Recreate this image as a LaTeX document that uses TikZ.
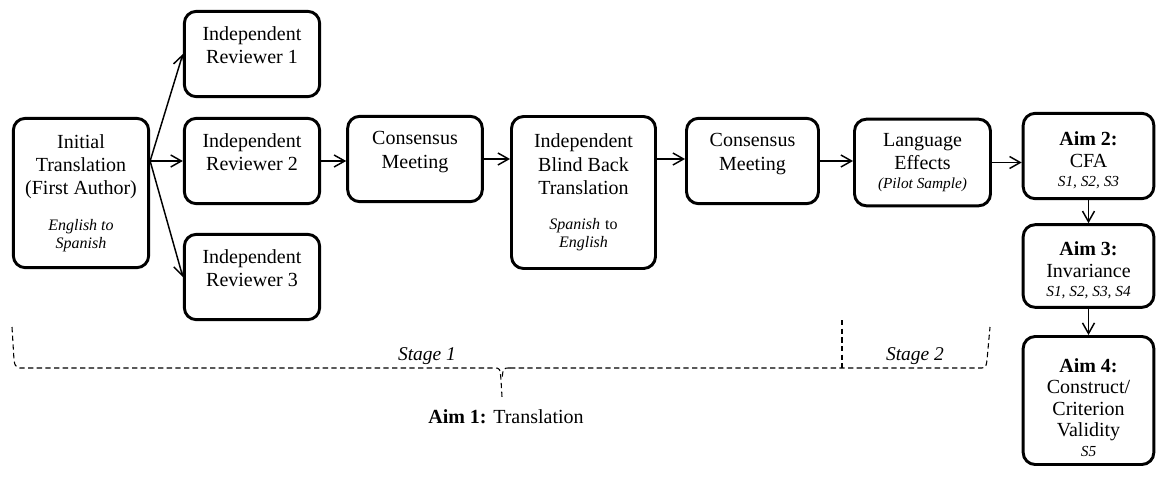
\documentclass[tikz,border=0pt]{standalone}
\usepackage{fontspec}
\setmainfont{Liberation Serif}
\usetikzlibrary{arrows.meta}
\newcommand{\smallit}[1]{{\fontsize{12}{13.5}\selectfont\itshape #1}}
\newcommand{\aimit}[1]{{\fontsize{11.5}{13}\selectfont\itshape #1}}

\begin{document}
\begin{tikzpicture}[x=0.75pt,y=-0.75pt,
		box/.style={draw, line width=2.2pt, rounded corners=9pt, align=center, inner sep=2pt, font=\fontsize{15}{17.5}\selectfont},
		aimbox/.style={box, minimum width=98pt, font=\fontsize{15}{16.5}\selectfont},
		arr/.style={-{Straight Barb[length=8pt,width=9pt]}, line width=1.1pt},
		stagedash/.style={line width=0.8pt, dash pattern=on 4pt off 2.5pt},
		stagetext/.style={anchor=base, font=\fontsize{14.6}{17}\selectfont\itshape}]
		\useasboundingbox (0,0) rectangle (1160,479);
		% stage 1 boxes
		\node[box, minimum width=101.5pt, minimum height=112pt] (init) at (81,193) {Initial\\Translation\\(First Author)\\[9pt]\smallit{English to}\\[-4pt]\smallit{Spanish}};
		\foreach \i/\y in {1/54,2/161,3/277} \node[box, minimum width=101.5pt, minimum height=64pt] (rev\i) at (252,\y) {Independent\\Reviewer \i\\[-4pt]\mbox{}};
		\node[box, minimum width=101pt, minimum height=64pt] (cons1) at (415,159) {Consensus\\Meeting\\[-4pt]\mbox{}};
		\node[box, minimum width=108pt, minimum height=114pt] (back) at (583.5,192.5) {Independent\\Blind Back\\Translation\\[9pt]\smallit{Spanish} {\fontsize{12}{13.5}\selectfont to}\\[-4pt]\smallit{English}};
		\node[box, minimum width=99pt, minimum height=64pt] (cons2) at (752.5,161) {Consensus\\Meeting\\[-4pt]\mbox{}};
		% stage 2 and aims
		\node[box, minimum width=102pt, minimum height=65pt] (lang) at (922.5,162.5) {Language\\Effects\\[-3pt]\aimit{(Pilot Sample)}};
		\node[aimbox, minimum height=64pt] (aim2) at (1088.5,156) {\mbox{}\\\textbf{Aim 2:}\\CFA\\[-2pt]\aimit{S1, S2, S3}};
		\node[aimbox, minimum height=62pt] (aim3) at (1088.5,266) {\mbox{}\\\textbf{Aim 3:}\\Invariance\\[-2pt]\aimit{S1, S2, S3, S4}};
		\node[aimbox, minimum height=96pt, font=\fontsize{15}{16}\selectfont] (aim4) at (1088.5,400.5) {\mbox{}\\[5pt]\textbf{Aim 4:}\\Construct/\\Criterion\\Validity\\[-1pt]\aimit{S5}};
		% arrows
		\coordinate (fan) at (init.east |- rev2.west);
		\foreach \i in {1,2,3} \draw[arr] (fan) -- (rev\i.west);
		\draw[arr] (rev2.east) -- (rev2.east -| cons1.west);
		\draw[arr] (cons1.east) -- (cons1.east -| back.west);
		\draw[arr] (cons1.east -| back.east) -- (cons1.east -| cons2.west);
		\draw[arr] (cons2.east) -- (cons2.east -| lang.west);
		\draw[arr] (lang.east) -- (lang.east -| aim2.west);
		\draw[arr] (aim2.south) -- (aim3.north);
		\draw[arr] (aim3.south) -- (aim4.north);
		% stage brace
		\draw[stagedash] (12,327) -- (14,360) .. controls (15,366) .. (20,368) -- (494,368) .. controls (500,368) .. (501,380) -- (502,397);
		\draw[stagedash] (510,368) .. controls (503,368) .. (502,380);
		\draw[stagedash] (510,368) -- (982,368) .. controls (986,367) .. (987,360) -- (990,327);
		\draw[stagedash] (842,320) -- (842,368);
		\node[stagetext] (stage1) at (427,360) {Stage 1};
		\node[stagetext] (stage2) at (915,360) {Stage 2};
		\node[anchor=base, font=\fontsize{15}{17.5}\selectfont] (aim1) at (506,423) {\textbf{Aim 1:} Translation};
	\end{tikzpicture}
\end{document}
